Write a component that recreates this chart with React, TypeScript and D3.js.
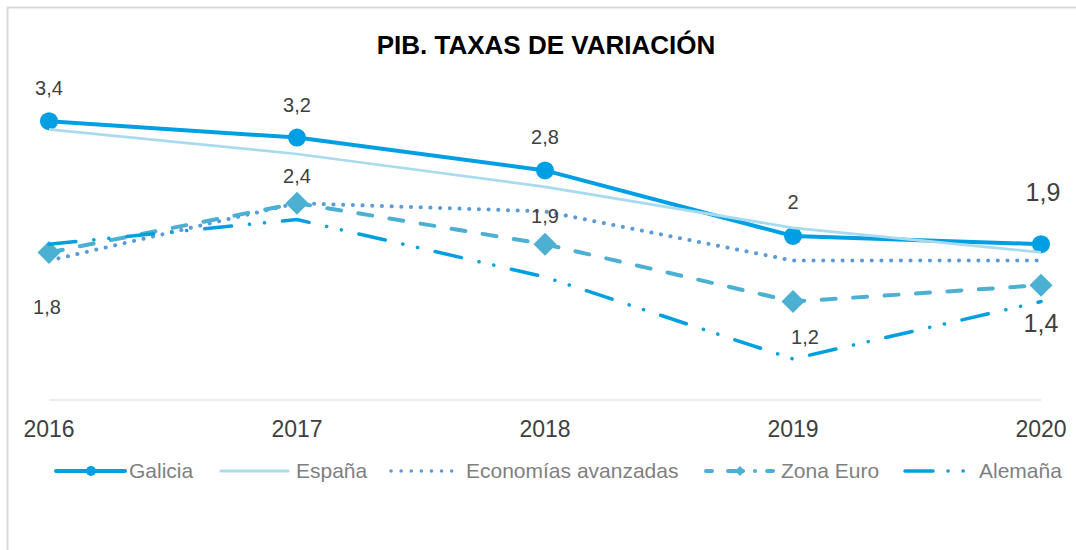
import React from "react";
import * as d3 from "d3";

const years = ["2016", "2017", "2018", "2019", "2020"];
const galicia = [3.4, 3.2, 2.8, 2.0, 1.9];
const espana = [3.3, 3.0, 2.6, 2.1, 1.8];
const economias = [1.7, 2.4, 2.3, 1.7, 1.7];
const zonaEuro = [1.8, 2.4, 1.9, 1.2, 1.4];
const alemana = [1.9, 2.2, 1.5, 0.5, 1.2];

const galiciaLabels = ["3,4", "3,2", "2,8", "2", "1,9"];
const zonaEuroLabels = ["1,8", "2,4", "1,9", "1,2", "1,4"];

// label layout (offsets from point, font sizes)
const galiciaLabelLayout = [
  { dx: 0, dy: -33, fs: 20 },
  { dx: 0, dy: -33, fs: 20 },
  { dx: 0, dy: -33, fs: 20 },
  { dx: 0, dy: -34, fs: 20 },
  { dx: 2, dy: -52, fs: 25 },
];
const zonaEuroLabelLayout = [
  { dx: -2, dy: 55, fs: 20 },
  { dx: 0, dy: -27, fs: 20 },
  { dx: 0, dy: -28, fs: 20 },
  { dx: 12, dy: 35, fs: 20 },
  { dx: 0, dy: 38, fs: 25 },
];

const C_GAL = "#009fe3";
const C_ESP = "#a9dbee";
const C_ECO = "#5a9bd8";
const C_ZON = "#4bb0d2";
const C_ALE = "#00a0e0";

const FONT = "'Liberation Sans', Arial, sans-serif";

const DASH_ECO = "0.1 9.6";
const DASH_ZON = "14 17.5";
const DASH_ALE = "27 18 0.1 15 0.1 18";

export default function App() {
  const W = 1076;
  const H = 550;
  const x = d3.scalePoint<string>().domain(years).range([49, 1041]);
  const y = d3.scaleLinear().domain([0, 4]).range([400, 72]);
  const line = d3
    .line<number>()
    .x((_, i) => x(years[i]) as number)
    .y((d) => y(d));

  const diamond = (cx: number, cy: number, r: number) =>
    `M${cx},${cy - r}L${cx + r},${cy}L${cx},${cy + r}L${cx - r},${cy}Z`;

  const legendY = 471;

  return (
    <svg
      width={W}
      height={H}
      style={{ position: "absolute", left: 0, top: 0, display: "block", background: "#fff" }}
      fontFamily={FONT}
    >
      <rect x={0} y={0} width={W} height={H} fill="#fff" />
      <rect x={7.5} y={7.5} width={W + 40} height={H + 40} fill="none" stroke="#d9d9d9" strokeWidth={2} />

      <text x={546} y={54} textAnchor="middle" fontSize={26} fontWeight="bold" fill="#000">
        PIB. TAXAS DE VARIACIÓN
      </text>

      {/* category axis */}
      <line x1={49} x2={1041} y1={y(0)} y2={y(0)} stroke="#d9d9d9" strokeWidth={1} />
      {years.map((yr) => (
        <text key={yr} x={x(yr)} y={437} textAnchor="middle" fontSize={23} fill="#404040">
          {yr}
        </text>
      ))}

      {/* series */}
      <path d={line(galicia) || ""} fill="none" stroke={C_GAL} strokeWidth={4} strokeLinejoin="round" />
      {galicia.map((v, i) => (
        <circle key={i} cx={x(years[i])} cy={y(v)} r={9} fill={C_GAL} />
      ))}
      <path d={line(espana) || ""} fill="none" stroke={C_ESP} strokeWidth={2.75} strokeLinejoin="round" />
      <path
        d={line(economias) || ""}
        fill="none"
        stroke={C_ECO}
        strokeWidth={4}
        strokeDasharray={DASH_ECO}
        strokeLinecap="round"
      />
      <path
        d={line(zonaEuro) || ""}
        fill="none"
        stroke={C_ZON}
        strokeWidth={4}
        strokeDasharray={DASH_ZON}
        strokeLinecap="round"
      />
      {zonaEuro.map((v, i) => (
        <path key={i} d={diamond(x(years[i]) as number, y(v), 11.5)} fill={C_ZON} />
      ))}
      <path
        d={line(alemana) || ""}
        fill="none"
        stroke={C_ALE}
        strokeWidth={3.5}
        strokeDasharray={DASH_ALE}
        strokeLinecap="round"
      />

      {/* labels */}
      {galicia.map((v, i) => (
        <text
          key={"g" + i}
          x={(x(years[i]) as number) + galiciaLabelLayout[i].dx}
          y={y(v) + galiciaLabelLayout[i].dy}
          dy="0.35em"
          textAnchor="middle"
          fontSize={galiciaLabelLayout[i].fs}
          fill="#404040"
        >
          {galiciaLabels[i]}
        </text>
      ))}
      {zonaEuro.map((v, i) => (
        <text
          key={"z" + i}
          x={(x(years[i]) as number) + zonaEuroLabelLayout[i].dx}
          y={y(v) + zonaEuroLabelLayout[i].dy}
          dy="0.35em"
          textAnchor="middle"
          fontSize={zonaEuroLabelLayout[i].fs}
          fill="#404040"
        >
          {zonaEuroLabels[i]}
        </text>
      ))}

      {/* legend */}
      <g fontSize={21} fill="#7f7f7f">
        <line x1={56} x2={125} y1={legendY} y2={legendY} stroke={C_GAL} strokeWidth={4} strokeLinecap="round" />
        <circle cx={91} cy={legendY} r={5} fill={C_GAL} />
        <text x={129} y={legendY} dy="0.35em">Galicia</text>

        <line x1={221} x2={288} y1={legendY} y2={legendY} stroke={C_ESP} strokeWidth={3} strokeLinecap="round" />
        <text x={296} y={legendY} dy="0.35em">España</text>

        <line
          x1={391}
          x2={452}
          y1={legendY}
          y2={legendY}
          stroke={C_ECO}
          strokeWidth={3.5}
          strokeDasharray={"0.1 10"}
          strokeLinecap="round"
        />
        <text x={466} y={legendY} dy="0.35em">Economías avanzadas</text>

        <line
          x1={706}
          x2={773}
          y1={legendY}
          y2={legendY}
          stroke={C_ZON}
          strokeWidth={4}
          strokeDasharray={"6 16 15 12 0.1 12"}
          strokeLinecap="round"
        />
        <path d={diamond(740, legendY, 5)} fill={C_ZON} />
        <text x={781} y={legendY} dy="0.35em">Zona Euro</text>

        <line
          x1={905}
          x2={966}
          y1={legendY}
          y2={legendY}
          stroke={C_ALE}
          strokeWidth={3.5}
          strokeDasharray={"28 15 0.1 15 0.1 15"}
          strokeLinecap="round"
        />
        <text x={979} y={legendY} dy="0.35em">Alemaña</text>
      </g>
    </svg>
  );
}
